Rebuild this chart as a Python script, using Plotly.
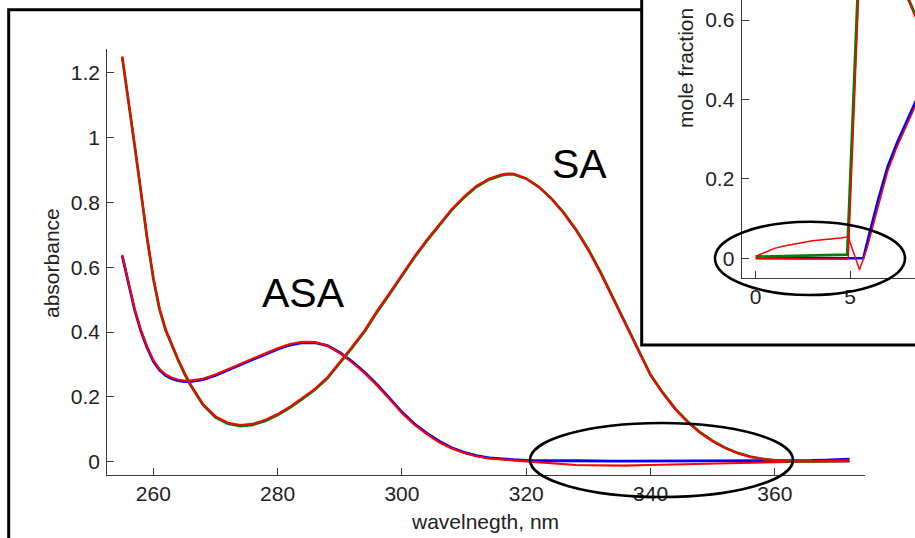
import plotly.graph_objects as go

# ---------------- UV spectra (main panel) ----------------
wavelength = [255, 256, 257, 258, 259, 260, 261, 262, 263, 264, 265, 266,
              268, 270, 272, 274, 276, 278, 280, 282, 284, 286, 288, 290,
              292, 294, 296, 298, 300, 302, 304, 306, 308, 310, 312, 314,
              316, 317, 318, 320, 322, 324, 326, 328, 330, 332, 334, 336,
              338, 340, 342, 344, 346, 348, 350, 352, 354, 356, 358, 360,
              362, 364, 366, 368, 370, 372]

asa_blue = [0.635, 0.553, 0.468, 0.403, 0.352, 0.310, 0.283, 0.266, 0.256, 0.250, 0.247, 0.247,
            0.253, 0.266, 0.283, 0.299, 0.315, 0.331, 0.347, 0.360, 0.367, 0.367, 0.358, 0.337,
            0.309, 0.276, 0.238, 0.196, 0.153, 0.117, 0.088, 0.063, 0.043, 0.029, 0.019, 0.012,
            0.008, 0.007, 0.006, 0.004, 0.003, 0.003, 0.003, 0.003, 0.002, 0.002, 0.002, 0.002,
            0.002, 0.002, 0.002, 0.002, 0.002, 0.002, 0.002, 0.002, 0.003, 0.003, 0.003, 0.003,
            0.003, 0.004, 0.004, 0.005, 0.007, 0.008]

asa_red = [0.638, 0.556, 0.471, 0.406, 0.355, 0.313, 0.286, 0.269, 0.259, 0.253, 0.250, 0.250,
           0.256, 0.269, 0.286, 0.302, 0.318, 0.334, 0.350, 0.363, 0.370, 0.369, 0.358, 0.335,
           0.306, 0.273, 0.235, 0.193, 0.150, 0.114, 0.085, 0.060, 0.041, 0.027, 0.017, 0.010,
           0.006, 0.005, 0.004, 0.001, -0.002, -0.005, -0.008, -0.010, -0.011, -0.012, -0.012, -0.012,
           -0.011, -0.010, -0.009, -0.008, -0.007, -0.006, -0.005, -0.004, -0.003, -0.002, -0.001, 0.000,
           0.000, 0.000, 0.001, 0.001, 0.001, 0.001]

sa_green = [1.248, 1.118, 0.975, 0.833, 0.690, 0.565, 0.470, 0.405, 0.356, 0.313, 0.272, 0.236,
            0.175, 0.137, 0.117, 0.110, 0.114, 0.126, 0.144, 0.167, 0.194, 0.222, 0.257, 0.303,
            0.352, 0.402, 0.462, 0.517, 0.575, 0.630, 0.681, 0.730, 0.776, 0.815, 0.848, 0.870,
            0.883, 0.886, 0.886, 0.873, 0.848, 0.813, 0.769, 0.716, 0.655, 0.583, 0.505, 0.424,
            0.344, 0.268, 0.212, 0.163, 0.123, 0.090, 0.064, 0.043, 0.027, 0.016, 0.009, 0.004,
            0.002, 0.001, 0.001, 0.002, 0.002, 0.003]

sa_red = [1.250, 1.121, 0.978, 0.836, 0.693, 0.568, 0.473, 0.408, 0.359, 0.316, 0.275, 0.239,
          0.178, 0.140, 0.120, 0.113, 0.117, 0.129, 0.147, 0.170, 0.197, 0.225, 0.260, 0.306,
          0.355, 0.405, 0.465, 0.520, 0.578, 0.633, 0.684, 0.733, 0.779, 0.818, 0.851, 0.873,
          0.886, 0.889, 0.888, 0.874, 0.848, 0.812, 0.767, 0.714, 0.652, 0.580, 0.502, 0.421,
          0.341, 0.266, 0.210, 0.161, 0.121, 0.089, 0.063, 0.042, 0.026, 0.015, 0.008, 0.004,
          0.002, 0.001, 0.001, 0.001, 0.001, 0.002]

wl_ticks = [260, 280, 300, 320, 340, 360]
abs_ticks = [0, 0.2, 0.4, 0.6, 0.8, 1, 1.2]

# ---------------- mole fraction vs time (inset) ----------------
t_sa = [0, 1, 2, 3, 4, 4.85, 5.6, 7.0, 8.44, 9.0]
sa_frac = [0.004, 0.005, 0.006, 0.007, 0.008, 0.009, 0.900, 0.775, 0.615, 0.550]

t_sa_fit = [0, 1, 2, 3, 4, 4.9, 5.65, 7.0, 8.44, 9.0]
sa_frac_fit = [0.000, -0.001, -0.001, -0.002, -0.002, -0.002, 0.900, 0.770, 0.610, 0.545]

t_asa = [0, 1, 2, 3, 4, 5, 5.7, 6.0, 6.5, 7.0, 7.5, 8.0, 8.44, 9.0]
asa_frac = [0.0, 0.0, 0.0, 0.0, 0.0, 0.0, 0.0, 0.058, 0.150, 0.232, 0.292, 0.345, 0.392, 0.450]

t_asa_fit = [0, 0.5, 1, 1.5, 2, 2.5, 3, 3.5, 4, 4.5, 4.9, 5.5, 5.9, 6.5, 7.0, 7.5, 8.0, 8.44, 9.0]
asa_frac_fit = [0.005, 0.016, 0.025, 0.031, 0.036, 0.040, 0.044, 0.046, 0.049, 0.051, 0.054,
                -0.029, 0.025, 0.135, 0.220, 0.282, 0.336, 0.383, 0.440]

time_ticks = [0, 5, 10]
frac_ticks = [0, 0.2, 0.4, 0.6]

W, H = 915, 538
FONT = "Liberation Sans, Arial, Helvetica, sans-serif"
AX = "#3a3a3a"
TXT = "#222222"


def px(x):
    return x / W


def py(y):
    return 1 - y / H


fig = go.Figure()

fig.add_trace(go.Scatter(x=wavelength, y=asa_blue, mode="lines",
                         line=dict(color="#0000ff", width=2.8), xaxis="x", yaxis="y"))
fig.add_trace(go.Scatter(x=wavelength, y=asa_red, mode="lines",
                         line=dict(color="#ff0000", width=2.1), xaxis="x", yaxis="y"))
fig.add_trace(go.Scatter(x=wavelength, y=sa_green, mode="lines",
                         line=dict(color="#008000", width=2.8), xaxis="x", yaxis="y"))
fig.add_trace(go.Scatter(x=wavelength, y=sa_red, mode="lines",
                         line=dict(color="#ff0000", width=2.1), xaxis="x", yaxis="y"))

fig.add_trace(go.Scatter(x=t_asa, y=asa_frac, mode="lines",
                         line=dict(color="#0000ff", width=2.6), xaxis="x2", yaxis="y2"))
fig.add_trace(go.Scatter(x=t_sa, y=sa_frac, mode="lines",
                         line=dict(color="#008000", width=2.8), xaxis="x2", yaxis="y2"))
fig.add_trace(go.Scatter(x=t_sa_fit, y=sa_frac_fit, mode="lines",
                         line=dict(color="#ff0000", width=1.5), xaxis="x2", yaxis="y2"))
fig.add_trace(go.Scatter(x=t_asa_fit, y=asa_frac_fit, mode="lines",
                         line=dict(color="#ff0000", width=1.5), xaxis="x2", yaxis="y2"))

tickfont = dict(family=FONT, size=21, color=TXT)
common = dict(showline=True, linecolor=AX, linewidth=1.3, ticks="inside", ticklen=7,
              tickcolor=AX, tickwidth=1.3, showgrid=False, zeroline=False,
              tickfont=tickfont, fixedrange=True)

main_x_dom = [px(107.3), px(865)]
main_y_dom = [py(475), py(49)]
x_range = [252.6, 374.5]
y_range = [-0.041, 1.273]

fig.update_layout(
    width=W, height=H, autosize=False,
    margin=dict(l=0, r=0, t=0, b=0, pad=0),
    paper_bgcolor="white", plot_bgcolor="white",
    showlegend=False,
    xaxis=dict(domain=main_x_dom, range=x_range, anchor="y", tickvals=wl_ticks,
               ticklabelstandoff=0, **common),
    yaxis=dict(domain=main_y_dom, range=y_range, anchor="x", tickvals=abs_ticks,
               ticklabelstandoff=2, **common),
    # top and right frame segments of the spectrum panel that stay visible beside the inset
    xaxis3=dict(domain=[px(107.3), px(641.7)], range=[252.6, 338.58], anchor="y",
                side="top", tickvals=[260, 280, 300, 320], showticklabels=False, **common),
    yaxis4=dict(domain=[py(475), py(345)], range=[-0.041, 0.36], anchor="x",
                side="right", tickvals=[0, 0.2], showticklabels=False, **common),
    # inset axes
    xaxis2=dict(domain=[px(741.7), 1.0], range=[-0.742, 8.44], anchor="y2",
                tickvals=time_ticks, ticklabelstandoff=0, **common),
    yaxis2=dict(domain=[py(277.7), 1.0], range=[-0.0489, 0.6506], anchor="x2",
                tickvals=frac_ticks, ticklabelstandoff=2, **common),
)

shapes = [
    # outer frame
    dict(type="rect", xref="paper", yref="paper", x0=px(8.7), x1=1.2, y0=-0.2, y1=py(9.7),
         line=dict(color="black", width=3), fillcolor="rgba(0,0,0,0)", layer="below"),
    # inset panel
    dict(type="rect", xref="paper", yref="paper", x0=px(641.7), x1=1.2, y0=py(345), y1=1.2,
         line=dict(color="black", width=3), fillcolor="white", layer="below"),
    # highlighted baseline regions
    dict(type="circle", xref="paper", yref="paper", x0=px(530), x1=px(793), y0=py(497), y1=py(423),
         line=dict(color="black", width=2.6), fillcolor="rgba(0,0,0,0)", layer="above"),
    dict(type="circle", xref="paper", yref="paper", x0=px(715), x1=px(905), y0=py(295), y1=py(221.7),
         line=dict(color="black", width=2.6), fillcolor="rgba(0,0,0,0)", layer="above"),
]
fig.update_layout(shapes=shapes)

annotations = [
    dict(text="absorbance", x=px(51), y=py(263), textangle=-90,
         font=dict(family=FONT, size=21, color=TXT)),
    dict(text="wavelnegth, nm", x=px(485), y=py(521),
         font=dict(family=FONT, size=21, color=TXT)),
    dict(text="ASA", x=px(303.5), y=py(293), font=dict(family=FONT, size=41, color="black")),
    dict(text="SA", x=px(579), y=py(163.5), font=dict(family=FONT, size=41, color="black")),
    dict(text="mole fraction", x=px(686), y=py(68), textangle=-90,
         font=dict(family=FONT, size=21, color=TXT)),
]
for a in annotations:
    a.update(xref="paper", yref="paper", showarrow=False, xanchor="center", yanchor="middle")
fig.update_layout(annotations=annotations)

fig.write_html("out.html")
